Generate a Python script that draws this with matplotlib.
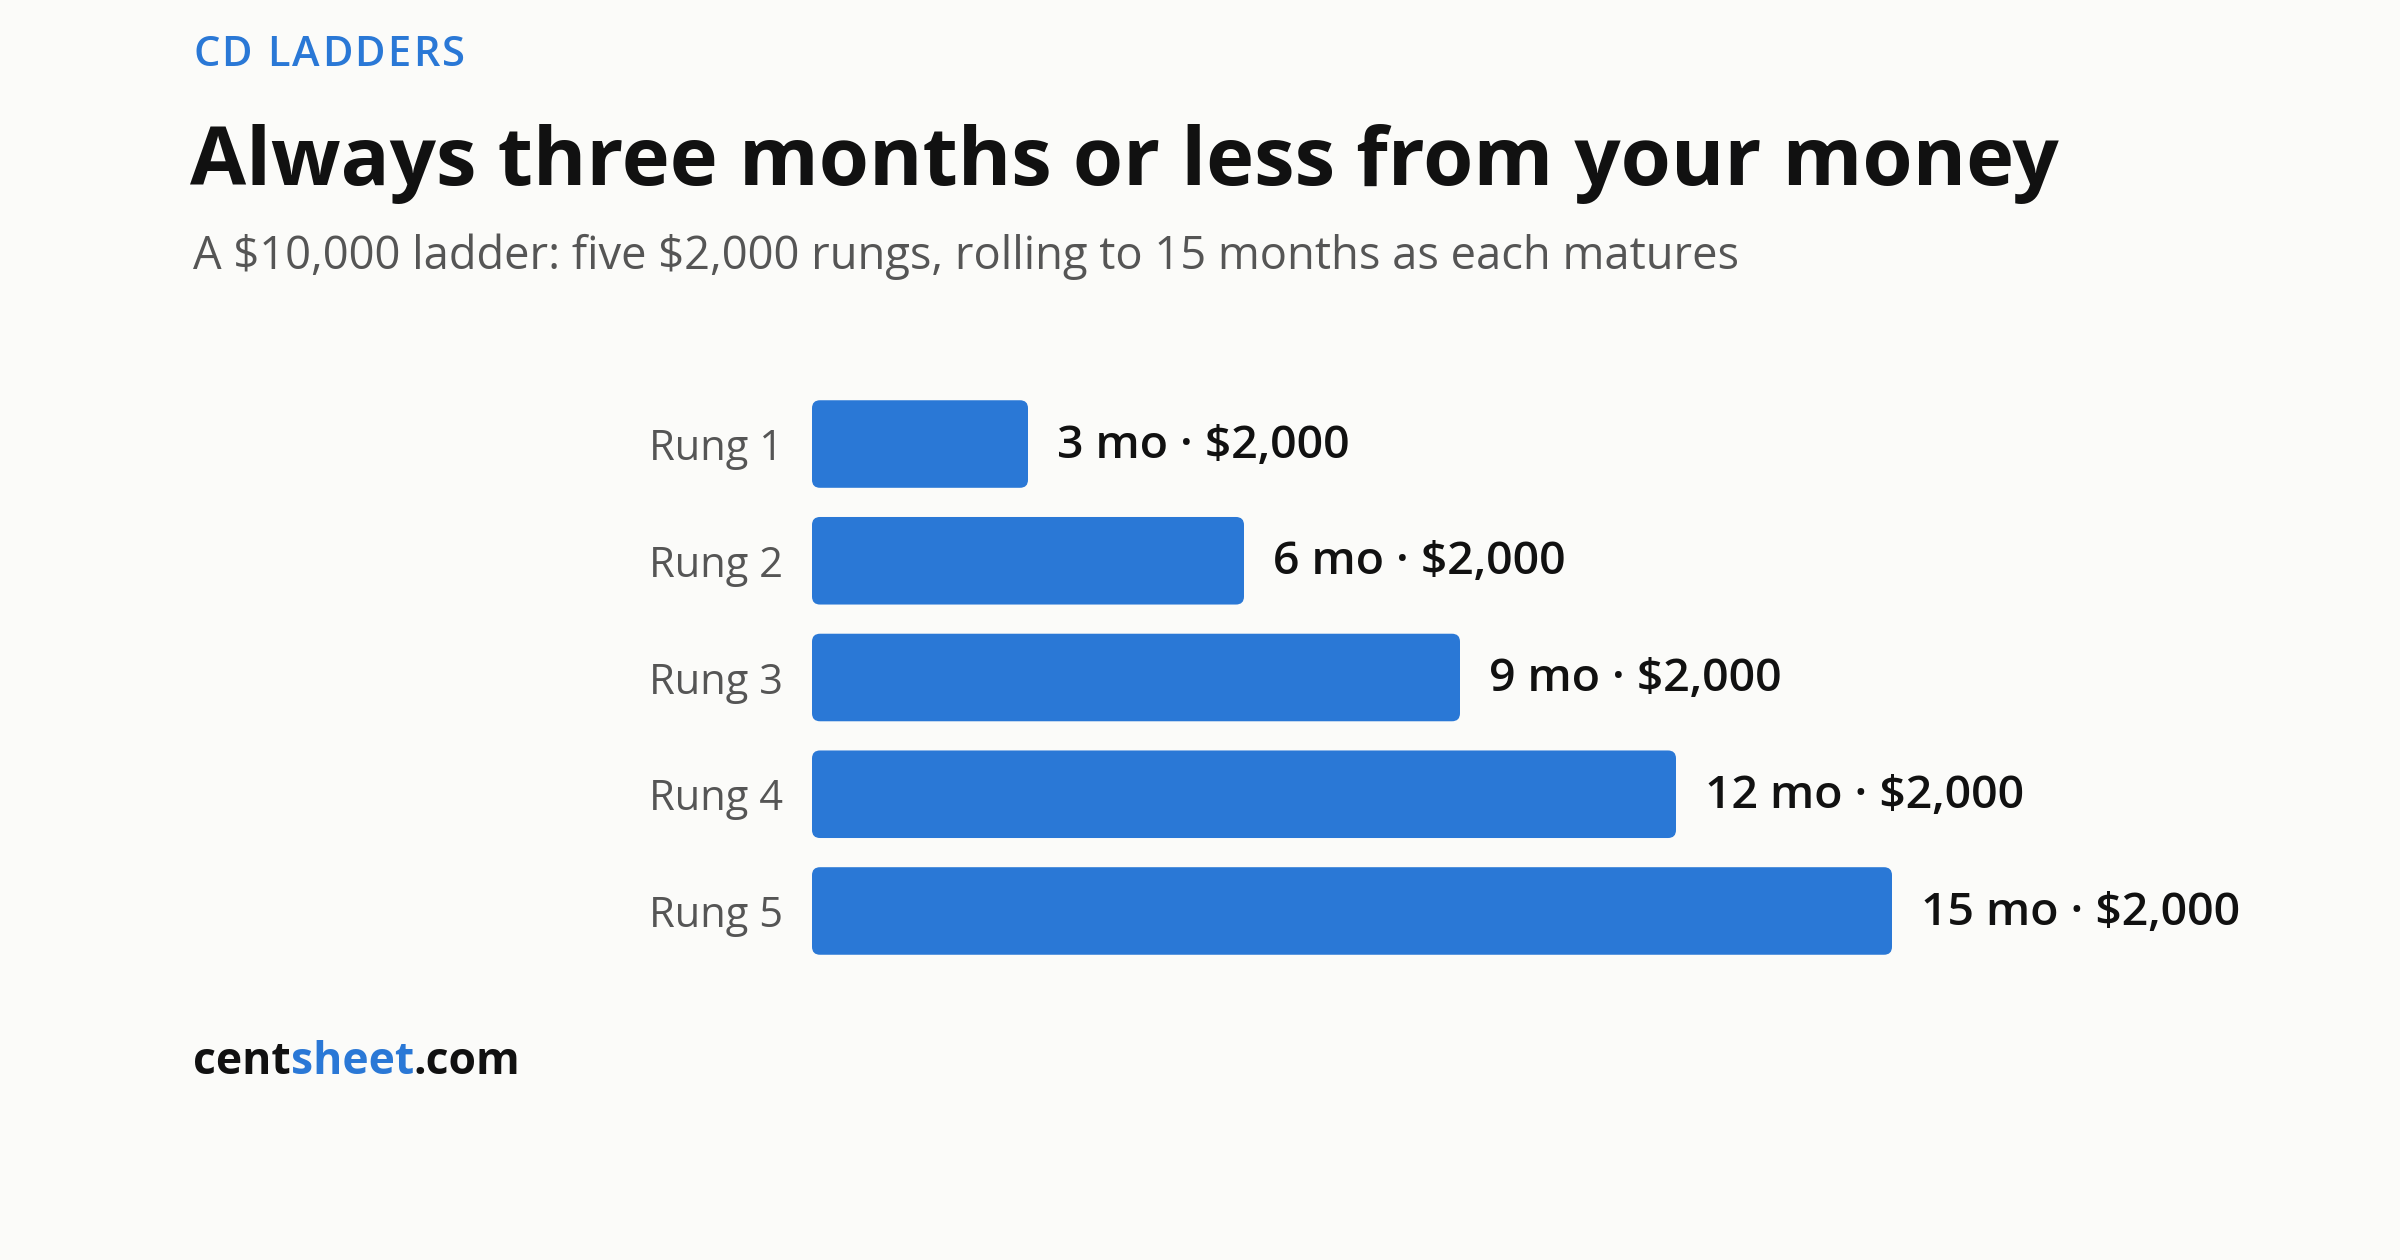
#!/usr/bin/env python3
"""CD ladder: five $2,000 rungs, horizontal rounded bars with value labels."""
import matplotlib
matplotlib.use("Agg")
import matplotlib.pyplot as plt
from matplotlib.patches import FancyBboxPatch

rungs = ["Rung 1", "Rung 2", "Rung 3", "Rung 4", "Rung 5"]
months = [3, 6, 9, 12, 15]
amounts = [2000, 2000, 2000, 2000, 2000]

BLUE = "#2a78d6"
BG = "#fbfbf9"
FONT = ["Open Sans", "DejaVu Sans"]

plt.rcParams["font.family"] = FONT
plt.rcParams["text.parse_math"] = False

W, H = 2400, 1260
fig = plt.figure(figsize=(W / 100, H / 100), dpi=100, facecolor=BG)

# axes geometry in pixels: value 0 at x=812, 72 px per month; rows 116.7 px apart
left_px, right_px = 812, 2300
px_per_month = 72.0
row_px = 116.7
top_px = 444 - 0.6 * row_px
bot_px = 911 + 0.6 * row_px
ax = fig.add_axes([left_px / W, 1 - bot_px / H, (right_px - left_px) / W, (bot_px - top_px) / H])
ax.set_facecolor(BG)
ax.set_xlim(0, (right_px - left_px) / px_per_month)
ax.set_ylim(len(rungs) - 0.4, -0.6)
for s in ax.spines.values():
    s.set_visible(False)
ax.set_xticks([])
ax.set_yticks(range(len(rungs)))
ax.set_yticklabels(rungs, fontsize=30, color="#555555")
ax.tick_params(axis="y", length=0, pad=21)

bar_h = 0.75
radius_px = 8
rx = radius_px / px_per_month
aspect = px_per_month / row_px
for i, (m, amt) in enumerate(zip(months, amounts)):
    ax.add_patch(FancyBboxPatch((0, i - bar_h / 2), m, bar_h,
                                boxstyle="round,pad=0,rounding_size=%f" % rx,
                                mutation_aspect=aspect, facecolor=BLUE, edgecolor="none"))
    ax.annotate("%d mo \u00b7 $%s" % (m, format(amt, ",")), (m, i),
                xytext=(21, -1.5), textcoords="offset points", va="center", ha="left",
                fontsize=33.4, color="#111111", fontweight="semibold")

# header: kicker drawn letter by letter for the wide tracking
prev = fig.text(193 / W, 1 - 55 / H, "C", fontsize=30, color=BLUE,
                ha="left", va="center", fontweight="semibold")
for ch in "D LADDERS":
    prev = ax.annotate(ch, xy=(1, 0.5), xycoords=prev, xytext=(1.6, 0),
                       textcoords="offset points", va="center", ha="left",
                       fontsize=30, color=BLUE, fontweight="semibold", annotation_clip=False)
fig.text(190 / W, 1 - 164 / H, "Always three months or less from your money", fontsize=58.6,
         color="#111111", ha="left", va="center", fontweight="bold")
fig.text(193 / W, 1 - 257 / H,
         "A $10,000 ladder: five $2,000 rungs, rolling to 15 months as each matures",
         fontsize=32.6, color="#555555", ha="left", va="center")

# footer brand, three colour pieces chained
t1 = fig.text(193 / W, 1 - 1085 / H, "cent", fontsize=32, color="#111111",
              fontweight="bold", ha="left", va="bottom")
t2 = ax.annotate("sheet", xy=(1, 0), xycoords=t1, va="bottom", ha="left",
                 fontsize=32, color=BLUE, fontweight="bold", annotation_clip=False)
ax.annotate(".com", xy=(1, 0), xycoords=t2, va="bottom", ha="left",
            fontsize=32, color="#111111", fontweight="bold", annotation_clip=False)

fig.savefig("out.png", dpi=100, facecolor=BG)
